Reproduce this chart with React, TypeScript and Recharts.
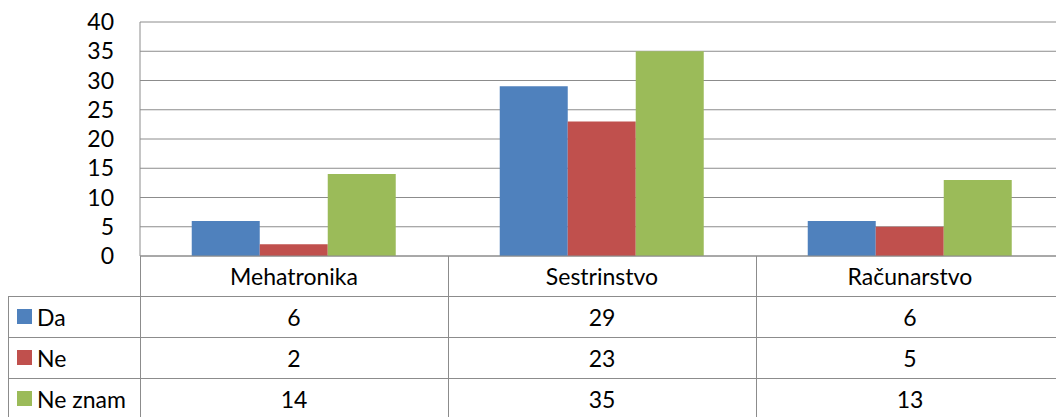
import { BarChart, Bar, XAxis, YAxis, CartesianGrid } from "recharts";

const categories = ["Mehatronika", "Sestrinstvo", "Računarstvo"];
const daValues = [6, 29, 6];
const neValues = [2, 23, 5];
const neZnamValues = [14, 35, 13];
const yTicks = [0, 5, 10, 15, 20, 25, 30, 35, 40];

const series = [
  { key: "da", name: "Da", values: daValues, color: "#4F81BD" },
  { key: "ne", name: "Ne", values: neValues, color: "#C0504D" },
  { key: "neZnam", name: "Ne znam", values: neZnamValues, color: "#9BBB59" },
];

const data = categories.map((name, i) => ({
  name,
  da: daValues[i],
  ne: neValues[i],
  neZnam: neZnamValues[i],
}));

const W = 1056;
const H = 417;
// the chart runs a little past the right edge of the frame, as in the original
const CHART_W = 1064;
const PLOT_LEFT = 140;
const PLOT_TOP = 22;
const AXIS_H = 161;
const Y_W = 40;
const PLOT_W = CHART_W - PLOT_LEFT;
const HEADER_H = 40;
const ROW_H = 41;
const GRID = "#8c8c8c";
const FONT = "Lato, 'Open Sans', sans-serif";
const FS = 23;

function TableTick({ x, y, payload, index }: any) {
  const band = PLOT_W / categories.length;
  const i = payload?.index ?? index;
  const right = x + band / 2;
  const left = x - band / 2;
  return (
    <g>
      <text x={x} y={y + HEADER_H / 2} textAnchor="middle" dominantBaseline="central"
        fill="#000" fontSize={FS} fontFamily={FONT}>{payload.value}</text>
      {series.map((s, r) => (
        <g key={s.key}>
          <line x1={left} x2={right} y1={y + HEADER_H + ROW_H * r + 0.5} y2={y + HEADER_H + ROW_H * r + 0.5}
            stroke={GRID} strokeWidth={1} />
          <text x={x} y={y + HEADER_H + ROW_H * r + ROW_H / 2} textAnchor="middle" dominantBaseline="central"
            fill="#000" fontSize={FS} fontFamily={FONT}>{s.values[i]}</text>
        </g>
      ))}
      {i < categories.length - 1 && (
        <line x1={right + 0.5} x2={right + 0.5} y1={y} y2={H} stroke={GRID} strokeWidth={1} />
      )}
    </g>
  );
}

export default function App() {
  const tableTop = H - AXIS_H;
  return (
    <div style={{ position: "absolute", left: 0, top: 0, width: W, height: H, overflow: "hidden", background: "#fff" }}>
      <BarChart
        width={CHART_W}
        height={H}
        data={data}
        margin={{ top: PLOT_TOP, right: 0, bottom: 0, left: PLOT_LEFT - Y_W }}
        barCategoryGap="16.8%"
        barGap={0}
      >
        <CartesianGrid vertical={false} stroke={GRID} strokeWidth={1} />
        <XAxis
          dataKey="name"
          height={AXIS_H}
          tickSize={0}
          tickMargin={0}
          interval={0}
          axisLine={{ stroke: GRID }}
          tick={<TableTick />}
        />
        <YAxis
          width={Y_W}
          domain={[0, 40]}
          ticks={yTicks}
          interval={0}
          tickSize={0}
          tickMargin={26}
          axisLine={{ stroke: GRID }}
          tickLine={false}
          tick={{ fill: "#000", fontSize: FS, fontFamily: FONT }}
        />
        {series.map((s) => (
          <Bar key={s.key} dataKey={s.key} name={s.name} fill={s.color} isAnimationActive={false} />
        ))}
      </BarChart>
      <svg width={W} height={H} style={{ position: "absolute", left: 0, top: 0, pointerEvents: "none" }}>
        <line x1={PLOT_LEFT + 0.5} x2={PLOT_LEFT + 0.5} y1={tableTop} y2={H} stroke={GRID} />
        <line x1={8.5} x2={8.5} y1={tableTop + HEADER_H} y2={H} stroke={GRID} />
        {series.map((s, r) => {
          const top = tableTop + HEADER_H + ROW_H * r;
          return (
            <g key={s.key}>
              <line x1={8} x2={PLOT_LEFT} y1={top + 0.5} y2={top + 0.5} stroke={GRID} />
              <rect x={17} y={top + ROW_H / 2 - 7.5} width={15} height={15} fill={s.color} />
              <text x={37} y={top + ROW_H / 2} dominantBaseline="central" fill="#000"
                fontSize={FS} fontFamily={FONT}>{s.name}</text>
            </g>
          );
        })}
      </svg>
    </div>
  );
}
